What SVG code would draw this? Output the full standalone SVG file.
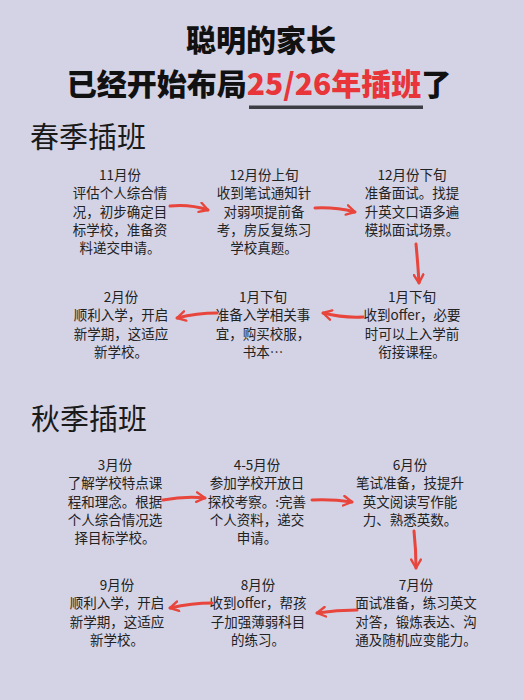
<svg xmlns="http://www.w3.org/2000/svg" width="524" height="700" viewBox="0 0 524 700">
<style>
.t{font-family:"Noto Sans CJK SC","Noto Sans",sans-serif;font-weight:900;font-size:30px;fill:#111;text-anchor:middle}
.h{font-family:"Noto Sans CJK SC","Noto Sans",sans-serif;font-size:29px;fill:#1a1a1a}
.n{font-family:"Noto Sans CJK SC","Noto Sans",sans-serif;font-size:13.5px;fill:#222;text-anchor:middle}
.a{fill:none;stroke:#e8453c;stroke-width:3;stroke-linecap:round;marker-end:url(#ah)}
</style>
<defs>
<marker id="ah" viewBox="0 0 10 10" refX="8" refY="5" markerWidth="4" markerHeight="4" orient="auto" markerUnits="strokeWidth">
<path d="M1,1 L8,5 L1,9" fill="none" stroke="#e8453c" stroke-width="2" stroke-linecap="round" stroke-linejoin="round"/>
</marker>
</defs>
<rect width="524" height="700" fill="#d4d3e5"/>
<g id="title">
<text class="t" x="261" y="51">聪明的家长</text>
<text class="t" x="259" y="95">已经开始布局<tspan fill="#e8353a">25/26年插班</tspan>了</text>
<rect x="249" y="105.5" width="174" height="3.5" fill="#3d3d45"/>
</g>
<text class="h" x="30" y="148">春季插班</text>
<text class="h" x="31" y="430">秋季插班</text>
<g id="s1" class="n"><text x="120" y="180">11月份</text><text x="120" y="198.3">评估个人综合情</text><text x="120" y="216.6">况，初步确定目</text><text x="120" y="234.9">标学校，准备资</text><text x="120" y="253.2">料递交申请。</text></g>
<g id="s2" class="n"><text x="264" y="180">12月份上旬</text><text x="264" y="198.3">收到笔试通知针</text><text x="264" y="216.6">对弱项提前备</text><text x="264" y="234.9">考，房反复练习</text><text x="264" y="253.2">学校真题。</text></g>
<g id="s3" class="n"><text x="412" y="180">12月份下旬</text><text x="412" y="198.3">准备面试。找提</text><text x="412" y="216.6">升英文口语多遍</text><text x="412" y="234.9">模拟面试场景。</text></g>
<g id="s4" class="n"><text x="412" y="302">1月下旬</text><text x="412" y="320.3">收到offer，必要</text><text x="412" y="338.6">时可以上入学前</text><text x="412" y="356.9">衔接课程。</text></g>
<g id="s5" class="n"><text x="263" y="302">1月下旬</text><text x="263" y="320.3">准备入学相关事</text><text x="263" y="338.6">宜，购买校服，</text><text x="263" y="356.9">书本…</text></g>
<g id="s6" class="n"><text x="121" y="302">2月份</text><text x="121" y="320.3">顺利入学，开启</text><text x="121" y="338.6">新学期，这适应</text><text x="121" y="356.9">新学校。</text></g>
<g id="f1" class="n"><text x="115" y="470">3月份</text><text x="115" y="488.3">了解学校特点课</text><text x="115" y="506.6">程和理念。根据</text><text x="115" y="524.9">个人综合情况选</text><text x="115" y="543.2">择目标学校。</text></g>
<g id="f2" class="n"><text x="257" y="470">4-5月份</text><text x="257" y="488.3">参加学校开放日</text><text x="257" y="506.6">探校考察。:完善</text><text x="257" y="524.9">个人资料，递交</text><text x="257" y="543.2">申请。</text></g>
<g id="f3" class="n"><text x="410" y="470">6月份</text><text x="410" y="488.3">笔试准备，技提升</text><text x="410" y="506.6">英文阅读写作能</text><text x="410" y="524.9">力、熟悉英数。</text></g>
<g id="f4" class="n"><text x="416" y="590">7月份</text><text x="416" y="608.3">面试准备，练习英文</text><text x="416" y="626.6">对答，锻炼表达、沟</text><text x="416" y="644.9">通及随机应变能力。</text></g>
<g id="f5" class="n"><text x="258" y="590">8月份</text><text x="258" y="608.3">收到offer，帮孩</text><text x="258" y="626.6">子加强薄弱科目</text><text x="258" y="644.9">的练习。</text></g>
<g id="f6" class="n"><text x="117" y="590">9月份</text><text x="117" y="608.3">顺利入学，开启</text><text x="117" y="626.6">新学期，这适应</text><text x="117" y="644.9">新学校。</text></g>
<g id="connectors">
<path class="a" d="M170,206 Q190,204 208,210"/>
<path class="a" d="M315,208 Q335,207 355,212"/>
<path class="a" d="M416,244 Q418,265 419,283"/>
<path class="a" d="M363,317 Q343,318 323,313"/>
<path class="a" d="M217,313 Q197,313 177,318"/>
<path class="a" d="M163,500 Q185,496 205,498"/>
<path class="a" d="M312,500 Q332,499 352,502"/>
<path class="a" d="M414,531 Q416,550 416,568"/>
<path class="a" d="M357,610 Q337,610 317,613"/>
<path class="a" d="M212,603 Q192,603 170,608"/>
</g>
</svg>
